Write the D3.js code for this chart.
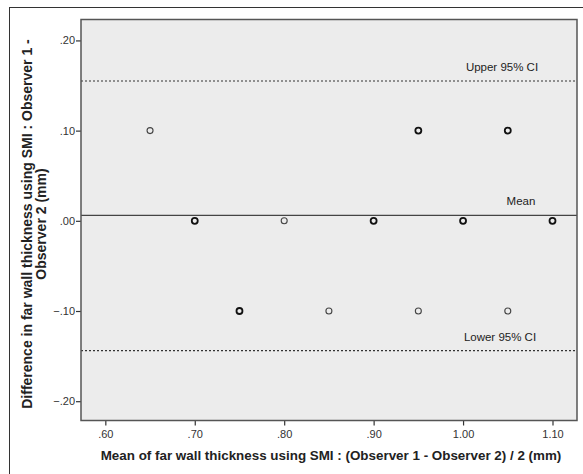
<!DOCTYPE html>
<html><head><meta charset="utf-8">
<script src="https://cdn.jsdelivr.net/npm/d3@7"></script>
<style>body{margin:0;background:#fff}svg{display:block}</style>
</head><body>
<script>
// Data (Bland-Altman points)
const meanVals = [0.65, 0.70, 0.75, 0.80, 0.85, 0.90, 0.95, 0.95, 1.00, 1.05, 1.05, 1.10];
const diffVals = [0.10, 0.00, -0.10, 0.00, -0.10, 0.00, 0.10, -0.10, 0.00, 0.10, -0.10, 0.00];
const counts   = [1, 2, 2, 1, 1, 2, 2, 1, 2, 2, 1, 2];
const refNames  = ["Upper 95% CI", "Mean", "Lower 95% CI"];
const refValues = [0.155, 0.006, -0.144];
const xTicks = [0.60, 0.70, 0.80, 0.90, 1.00, 1.10];
const yTicks = [0.20, 0.10, 0.00, -0.10, -0.20];
const xTitle = "Mean of far wall thickness using SMI : (Observer 1 - Observer 2) / 2 (mm)";
const yTitle = ["Difference in far wall thickness using SMI : Observer 1 -", "Observer 2 (mm)"];

const W = 583, H = 474;
const FONT = "Arial, 'Liberation Sans', sans-serif";
const svg = d3.select("body").append("svg").attr("width", W).attr("height", H);

svg.append("rect").attr("x", 9.5).attr("y", 7.5).attr("width", 590).attr("height", 490)
  .attr("fill", "#fff").attr("stroke", "#333").attr("stroke-width", 1);

const L = 81, R = 577, T = 19.5, B = 420.5;
const x = d3.scaleLinear().domain([0.5728, 1.1274]).range([L, R]);
const y = d3.scaleLinear().domain([-0.2214, 0.2232]).range([B, T]);

svg.append("rect").attr("x", L).attr("y", T).attr("width", R - L).attr("height", B - T)
  .attr("fill", "#ececec");

const fmt = v => { const s = d3.format(".2f")(v); return Math.abs(v) < 1 ? s.replace("0.", ".") : s; };

// axes
const xAxis = d3.axisBottom(x).tickValues(xTicks).tickSize(5).tickSizeOuter(0).tickFormat(fmt);
const gx = svg.append("g").attr("transform", `translate(0,${B})`).call(xAxis);
gx.select(".domain").remove();
gx.selectAll("line").attr("stroke", "#333").attr("stroke-width", 1.2);
gx.selectAll("text").attr("font-family", FONT).attr("font-size", 11).attr("fill", "#333").attr("dy", "0.85em");

const yAxis = d3.axisLeft(y).tickValues(yTicks).tickSize(5).tickSizeOuter(0).tickFormat(fmt);
const gy = svg.append("g").attr("transform", `translate(${L},0)`).call(yAxis);
gy.select(".domain").remove();
gy.selectAll("line").attr("stroke", "#333").attr("stroke-width", 1.2);
gy.selectAll("text").attr("font-family", FONT).attr("font-size", 11).attr("fill", "#333").attr("x", -6);

// reference lines
refValues.forEach((v, i) => {
  svg.append("line").attr("x1", L).attr("x2", R).attr("y1", y(v)).attr("y2", y(v))
    .attr("stroke", i === 1 ? "#444" : "#333").attr("stroke-width", i === 1 ? 1.3 : 1.2)
    .attr("stroke-dasharray", i === 1 ? null : "2,2");
});
const labelX = [502, 521, 500];
refValues.forEach((v, i) => {
  svg.append("text").attr("x", labelX[i]).attr("y", y(v) - 10)
    .attr("text-anchor", "middle").attr("font-family", FONT)
    .attr("font-size", 11.5).attr("fill", "#222").text(refNames[i]);
});

// points
svg.append("g").selectAll("circle").data(meanVals).join("circle")
  .attr("cx", (d) => x(d)).attr("cy", (d, i) => y(diffVals[i])).attr("r", 3)
  .attr("fill", "none").attr("stroke", (d, i) => counts[i] > 1 ? "#111" : "#444")
  .attr("stroke-width", (d, i) => counts[i] > 1 ? 1.8 : 1.1);

// plot border
svg.append("rect").attr("x", L).attr("y", T).attr("width", R - L).attr("height", B - T)
  .attr("fill", "none").attr("stroke", "#555").attr("stroke-width", 1.5);

// titles
svg.append("text").attr("x", 331).attr("y", 460).attr("text-anchor", "middle")
  .attr("font-family", FONT).attr("font-weight", "bold")
  .attr("font-size", 13.4).attr("fill", "#222").text(xTitle);
const yt = svg.append("text").attr("transform", `translate(0,224) rotate(-90)`)
  .attr("text-anchor", "middle").attr("font-family", FONT)
  .attr("font-weight", "bold").attr("font-size", 14).attr("fill", "#222");
yt.append("tspan").attr("x", 0).attr("y", 32).text(yTitle[0]);
yt.append("tspan").attr("x", 0).attr("y", 46).text(yTitle[1]);
</script>
</body></html>
